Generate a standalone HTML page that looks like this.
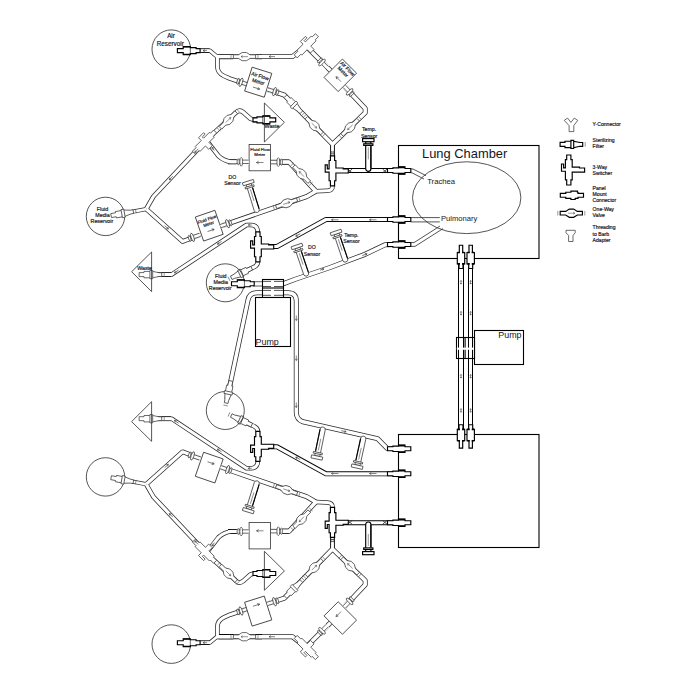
<!DOCTYPE html>
<html><head><meta charset="utf-8"><title>Lung Chamber Bioreactor Diagram</title><style>
html,body{margin:0;padding:0;background:#fff}
svg{display:block}
text{font-family:"Liberation Sans",Arial,sans-serif;fill:#15151f}
.sm text,text.sm{stroke:#15151f;stroke-width:.18}
.tb path{fill:none;stroke-linejoin:round;stroke-linecap:butt}
.tw path{fill:none;stroke:#fff;stroke-linejoin:round;stroke-linecap:butt}
.lt{fill:#fff;stroke:#3a3a3a;stroke-width:.75;stroke-linejoin:miter}
.bd{fill:#fff;stroke:#000;stroke-width:1.15;stroke-linejoin:miter}
.in{fill:none;stroke:#555;stroke-width:.6}
.ln{fill:none;stroke:#2a2a2a;stroke-width:.8}
.bx{fill:#fff;stroke:#333;stroke-width:.8}
.bk{fill:#fff;stroke:#000;stroke-width:1.1}
.ar{fill:none;stroke:#333;stroke-width:.6}
.nf{fill:none}
</style></head><body><svg width="675" height="691" viewBox="0 0 675 691">
<defs>
<g id="F"><path d="M-11.3,-2 H-6.4 V-3.2 H-0.5 V-4.1 H2.3 V-3.2 L8.5,-1.9 H11.3 V1.9 H8.5 L2.3,3.2 V4.1 H-0.5 V3.2 H-6.4 V2 H-11.3 Z"/><path d="M-0.5,-3.2 V3.2 M2.3,-3.2 V3.2" /><path class="in" d="M13.8,-2.3 V2.3"/></g>
<g id="F2"><path d="M-11.3,-2 H-5.5 V-4 H1.6 V-3 H7.4 V-2 H11.4 V2 H7.4 V3 H1.6 V4 H-5.5 V2 H-11.3 Z"/><path d="M-5.5,-3.7 H1.6 M-5.5,3.7 H1.6" stroke-width="1.25"/><path d="M1.6,-3 V3" stroke-width=".6"/></g>
<g id="V"><path d="M-11.1,-1.8 H-5.6 L-2,-4.1 H2.4 L6,-1.8 H11.1 V1.8 H6 L2.4,4.1 H-2 L-5.6,1.8 H-11.1 Z"/><path class="in" d="M-3.5,0 H3.5 M1.8,-1.1 L3.5,0 L1.8,1.1 M-13.5,-2.3 V2.3 M13.5,-2.3 V2.3"/></g>
<g id="P"><path d="M-11.6,-1.9 H-6.1 V-3.1 H-1 V-4.2 H5.5 V-3.1 H6.1 V-1.9 H11.6 V1.9 H6.1 V3.1 H3.3 V4.2 H-1 V3.1 H-6.1 V1.9 H-11.6 Z"/></g>
<g id="P2"><path d="M-11,-2 H-5.6 V-2.7 H0 V-3.6 H6.5 V-2 H12.3 V2 H6.5 V3.6 H0 V2.7 H-5.6 V2 H-11 Z"/><path d="M0,-3.2 H6.5 M0,3.2 H6.5" stroke-width="1.7"/></g>
<g id="P3"><path d="M-10,-2 H-5.4 V-3.7 H6 V-1.7 H13.3 V1.7 H6 V3.7 H-5.4 V2 H-10 Z"/><path d="M-5.4,-3.4 V-1 M-5.4,3.4 V1 M6,-3.4 V-1 M6,3.4 V1" stroke-width="1.6"/></g>
<g id="S2"><path d="M-2.1,-14.6 H2.1 V-10 H3.4 V-2.5 H8 V2.5 H3.4 V10.2 H2.1 V15.4 H-2.1 V10.2 H-3.4 V1.6 H-7.3 V-5.6 H-5.2 V-1.7 H-3.4 V-10 H-2.1 Z"/></g>
<g id="S"><path d="M-2.1,-14.6 H2.1 V-10 H3.4 V-2.5 H10.7 V-1.6 H15.8 V2.5 H3.4 V10.2 H2.1 V15.4 H-2.1 V10.2 H-3.4 V1.6 H-7.3 V-5.6 H-5.2 V-1.7 H-3.4 V-10 H-2.1 Z"/></g>
<g id="B"><rect x="1" y="-2.8" width="6.5" height="5.6" fill="#fff" stroke="none"/><path d="M1,-1.7 H7.5 M1,1.7 H7.5"/><ellipse cx="-3" cy="0" rx="1.1" ry="3.1"/><ellipse cx="0" cy="0" rx="1.4" ry="4.4"/></g>
<g id="T"><path d="M-2.6,-29.6 V-2.6 A2.6,2.6 0 0 0 2.6,-2.6 V-29.6 Z"/><path d="M2.6,-25 V-3" stroke="#000" stroke-width="1.1"/><path class="in" d="M0,-24 V-12"/><rect x="-4.6" y="-27.5" width="9.2" height="1.6"/><rect x="-5.7" y="-32.7" width="11.4" height="3.1"/></g>
</defs>
<rect width="675" height="691" fill="#fff"/>
<g class="tb"><g id="kb"><path d="M199,50.6 L209.9,50.6 L217,56.6" stroke="#2a2a2a" stroke-width="4.20"/><path d="M217,56.6 L292.4,56.6 L306.6,45.5" stroke="#2a2a2a" stroke-width="5.00"/><path d="M217.4,56 L217.4,67 Q217.6,73 224,76 L230,78.6 L247,84.3" stroke="#2a2a2a" stroke-width="4.60"/><path d="M267,89.3 L284.5,95.2 L332.5,144.3" stroke="#2a2a2a" stroke-width="5.00"/><path d="M307.4,47.5 L330.4,70.5" stroke="#2a2a2a" stroke-width="5.00"/><path d="M344.5,86.5 L365.2,108.5 L365.2,112.8 L332.5,144.3" stroke="#2a2a2a" stroke-width="5.00"/><path d="M332.5,144 L332.5,157" stroke="#2a2a2a" stroke-width="4.20"/><path d="M335,170.5 L398.5,170.5" stroke="#000" stroke-width="5.00"/><path d="M218.5,56.6 H233.4" stroke="#000" stroke-width="5.20"/><path d="M255.3,56.6 H262" stroke="#000" stroke-width="5.20"/><path d="M228,161.8 H236.5" stroke="#000" stroke-width="5.00"/><path d="M281.5,162.1 H289" stroke="#000" stroke-width="5.00"/><path d="M253,119.8 H262" stroke="#000" stroke-width="5.00"/><path d="M158,274.6 H171" stroke="#000" stroke-width="4.80"/><path d="M332.5,145.5 V157" stroke="#000" stroke-width="4.40"/><path d="M200.5,50.6 H209.5" stroke="#000" stroke-width="4.20"/><path d="M332.5,186 Q332.8,190.6 327,190.8 L315.8,191.3" stroke="#2a2a2a" stroke-width="4.60"/><path d="M315.8,191.3 L289.1,162.1 L270.4,162.1" stroke="#2a2a2a" stroke-width="5.00"/><path d="M249.1,161.8 L231,161.8 Q224,161 218.5,156 L206.5,140.5" stroke="#2a2a2a" stroke-width="4.60"/><path d="M146.5,208.5 L153.4,196.5 L206.6,139.9 L236,112.5 Q239.5,109 243.5,112.5 L250.5,118.8 L254,119.8" stroke="#2a2a2a" stroke-width="4.70"/><path d="M132,211.8 L146.5,209" stroke="#2a2a2a" stroke-width="4.20"/><path d="M146.5,209.3 L182.6,241.5 L200,234.9" stroke="#2a2a2a" stroke-width="4.70"/><path d="M221.6,225.8 L306.5,196.7 L315.8,191.3" stroke="#2a2a2a" stroke-width="5.00"/><path d="M398,219.5 L326,219.5 L277,246.5 L261,246.5" stroke="#0a0a0a" stroke-width="5.00"/><path d="M257.9,233 Q257.9,225 251,225 L246.5,225 L171.6,274.6 L157,274.6" stroke="#2a2a2a" stroke-width="4.50"/><path d="M257.9,262 Q257.5,266 252,268 L236,275.5" stroke="#2a2a2a" stroke-width="4.60"/></g><use href="#kb" transform="matrix(1 0 0 -1 0 693.3)"/><path d="M283,283.9 L296,279 L330,267.5 L365,254.3 L385,244.8 L398,244.5" stroke="#2a2a2a" stroke-width="5.00"/><path d="M253,283.9 L284,283.9" stroke="#2a2a2a" stroke-width="5.00"/><path d="M227,399 L248,300 Q249.5,292.8 257,292.8 L288,292.8 Q296.3,292.8 296.3,301 L296.3,412 Q296.3,419.5 303,421.8 L377.4,438.6 L387,448.3 L398,448.6" stroke="#2a2a2a" stroke-width="5.00"/><path d="M461,258 V435" stroke="#000" stroke-width="6.00"/><path d="M470.5,258 V435" stroke="#000" stroke-width="5.00"/></g>
<g class="tw"><g id="kw"><path d="M199,50.6 L209.9,50.6 L217,56.6" stroke-width="2.70"/><path d="M217,56.6 L292.4,56.6 L306.6,45.5" stroke-width="3.50"/><path d="M217.4,56 L217.4,67 Q217.6,73 224,76 L230,78.6 L247,84.3" stroke-width="3.10"/><path d="M267,89.3 L284.5,95.2 L332.5,144.3" stroke-width="3.50"/><path d="M307.4,47.5 L330.4,70.5" stroke-width="3.50"/><path d="M344.5,86.5 L365.2,108.5 L365.2,112.8 L332.5,144.3" stroke-width="3.50"/><path d="M332.5,144 L332.5,157" stroke-width="2.70"/><path d="M335,170.5 L398.5,170.5" stroke-width="3.00"/><path d="M218.5,56.6 H233.4" stroke-width="3.10"/><path d="M255.3,56.6 H262" stroke-width="3.10"/><path d="M228,161.8 H236.5" stroke-width="2.90"/><path d="M281.5,162.1 H289" stroke-width="2.90"/><path d="M253,119.8 H262" stroke-width="2.90"/><path d="M158,274.6 H171" stroke-width="2.70"/><path d="M332.5,145.5 V157" stroke-width="2.30"/><path d="M200.5,50.6 H209.5" stroke-width="2.10"/><path d="M332.5,186 Q332.8,190.6 327,190.8 L315.8,191.3" stroke-width="3.10"/><path d="M315.8,191.3 L289.1,162.1 L270.4,162.1" stroke-width="3.50"/><path d="M249.1,161.8 L231,161.8 Q224,161 218.5,156 L206.5,140.5" stroke-width="3.10"/><path d="M146.5,208.5 L153.4,196.5 L206.6,139.9 L236,112.5 Q239.5,109 243.5,112.5 L250.5,118.8 L254,119.8" stroke-width="3.20"/><path d="M132,211.8 L146.5,209" stroke-width="2.70"/><path d="M146.5,209.3 L182.6,241.5 L200,234.9" stroke-width="3.20"/><path d="M221.6,225.8 L306.5,196.7 L315.8,191.3" stroke-width="3.50"/><path d="M398,219.5 L326,219.5 L277,246.5 L261,246.5" stroke-width="3.20"/><path d="M257.9,233 Q257.9,225 251,225 L246.5,225 L171.6,274.6 L157,274.6" stroke-width="3.00"/><path d="M257.9,262 Q257.5,266 252,268 L236,275.5" stroke-width="3.10"/></g><use href="#kw" transform="matrix(1 0 0 -1 0 693.3)"/><path d="M283,283.9 L296,279 L330,267.5 L365,254.3 L385,244.8 L398,244.5" stroke-width="3.50"/><path d="M253,283.9 L284,283.9" stroke-width="3.50"/><path d="M227,399 L248,300 Q249.5,292.8 257,292.8 L288,292.8 Q296.3,292.8 296.3,301 L296.3,412 Q296.3,419.5 303,421.8 L377.4,438.6 L387,448.3 L398,448.6" stroke-width="3.50"/><path d="M461,258 V435" stroke-width="4.00"/><path d="M470.5,258 V435" stroke-width="3.00"/></g>
<rect class="bk nf" x="398.5" y="145.5" width="140.5" height="113"/><rect class="bk nf" x="398.5" y="434.5" width="140.5" height="113"/>
<g id="kc"><circle class="ln" cx="171.3" cy="49.2" r="19.3"/><use href="#F2" class="bd" transform="translate(188.7,50.6) rotate(0.0)"/><use href="#V" class="lt" transform="translate(244.5,56.6) rotate(180.0)"/><path class="ar" transform="translate(205.0,50.6) rotate(180.0)" d="M-2.0,0 H2.0 M0.19999999999999996,-1.1 L2.0,0 L0.19999999999999996,1.1"/><path class="ar" transform="translate(272.0,56.6) rotate(180.0)" d="M-3.0,0 H3.0 M1.2,-1.1 L3.0,0 L1.2,1.1"/><use href="#B" class="lt" transform="translate(241.0,82.3) rotate(18.5)"/><g transform="translate(258.2,82.2) rotate(17.5)"><rect class="bx" x="-10.3" y="-12.5" width="20.6" height="25.0"/><path class="ar" d="M-3.5,6.2 H3.5 M1.3,4.9 L3.5,6.2 L1.3,7.5"/></g><use href="#B" class="lt" transform="translate(274.5,91.6) rotate(197.0)"/><use href="#F" class="lt" transform="translate(293.4,104.3) rotate(45.0)"/><use href="#V" class="lt" transform="translate(314.2,125.6) rotate(45.0)"/><use href="#S2" class="lt" transform="translate(306.6,45.5) rotate(45.0)"/><use href="#B" class="lt" transform="translate(322.0,62.5) rotate(45.0)"/><g transform="translate(340.3,75.3) rotate(45.0)"><rect class="bx" x="-10.0" y="-13.0" width="20.0" height="26.0"/><path class="ar" d="M5.0,4.0 H-2.0 M0.2,2.7 L-2.0,4.0 L0.2,5.3"/></g><use href="#B" class="lt" transform="translate(349.6,91.9) rotate(226.7)"/><use href="#V" class="lt" transform="translate(350.1,127.3) rotate(136.4)"/><path class="ln" d="M330.7,150.5 V155.7 M334.3,150.5 V155.7 M330.7,152 H334.3 M330.7,153.8 H334.3"/><use href="#S" class="bd" transform="translate(332.5,170.5) rotate(0.0)"/><path class="ln" d="M347.5,169 L352.2,172.8 M347.5,172.8 L352.2,169 M382.5,169 L387.2,172.8 M382.5,172.8 L387.2,169"/><use href="#T" class="bd" transform="translate(368.3,171.3) rotate(0.0)"/><use href="#P2" class="bd" transform="translate(398.5,170.5) rotate(0.0)"/><use href="#V" class="lt" transform="translate(301.6,174.1) rotate(226.5)"/><use href="#B" class="lt" transform="translate(278.3,162.1) rotate(180.0)"/><g transform="translate(259.8,157.6) rotate(0.0)"><rect class="bx" x="-10.7" y="-13.2" width="21.4" height="26.4"/><path class="ar" d="M3.7,4.9 H-3.3 M-1.1,3.6 L-3.3,4.9 L-1.1,6.2"/></g><use href="#B" class="lt" transform="translate(241.2,161.8) rotate(0.0)"/><use href="#V" class="lt" transform="translate(228.3,120.0) rotate(-45.0)"/><use href="#S2" class="lt" transform="translate(204.8,141.8) rotate(45.0)"/><use href="#F2" class="bd" transform="translate(264.4,119.8) rotate(180.0)"/><path class="ln" d="M264.4,103 V142 L284.4,122.3 Z" fill="none"/><circle class="ln" cx="105.5" cy="216.4" r="19.2"/><use href="#F" class="lt" transform="translate(122.2,213.6) rotate(-10.3)"/><use href="#B" class="lt" transform="translate(192.5,237.4) rotate(-19.0)"/><g transform="translate(209.2,225.7) rotate(-19.0)"><rect class="bx" x="-10.3" y="-12.7" width="20.7" height="25.4"/><path class="ar" d="M-3.5,5.0 H3.5 M1.3,3.7 L3.5,5.0 L1.3,6.3"/></g><use href="#B" class="lt" transform="translate(227.6,223.7) rotate(161.0)"/><use href="#V" class="lt" transform="translate(286.6,203.3) rotate(-19.0)"/><use href="#T" class="lt" transform="translate(257.5,212.4) rotate(-17.2)"/><path class="ar" transform="translate(171.0,178.0) rotate(133.0)" d="M-2.5,0 H2.5 M0.7,-1.1 L2.5,0 L0.7,1.1"/><path class="ar" transform="translate(196.5,150.7) rotate(133.0)" d="M-2.5,0 H2.5 M0.7,-1.1 L2.5,0 L0.7,1.1"/><path class="ar" transform="translate(166.5,227.3) rotate(42.0)" d="M-2.5,0 H2.5 M0.7,-1.1 L2.5,0 L0.7,1.1"/><path class="ar" transform="translate(213.2,149.0) rotate(233.0)" d="M-2.0,0 H2.0 M0.19999999999999996,-1.1 L2.0,0 L0.19999999999999996,1.1"/><use href="#P2" class="bd" transform="translate(398.5,219.5) rotate(0.0)"/><use href="#S" class="bd" transform="translate(257.9,246.5) rotate(0.0)"/><path class="ar" transform="translate(335.0,219.8) rotate(180.0)" d="M-3.5,0 H3.5 M1.7,-1.1 L3.5,0 L1.7,1.1"/><path class="ar" transform="translate(373.0,219.8) rotate(180.0)" d="M-3.5,0 H3.5 M1.7,-1.1 L3.5,0 L1.7,1.1"/><path class="ar" transform="translate(298.0,235.0) rotate(152.0)" d="M-2.5,0 H2.5 M0.7,-1.1 L2.5,0 L0.7,1.1"/><path class="ar" transform="translate(250.0,225.0) rotate(180.0)" d="M-1.75,0 H1.75 M-0.050000000000000044,-1.1 L1.75,0 L-0.050000000000000044,1.1"/><path class="ar" transform="translate(219.5,242.8) rotate(146.0)" d="M-2.5,0 H2.5 M0.7,-1.1 L2.5,0 L0.7,1.1"/><path class="ar" transform="translate(176.5,271.5) rotate(146.0)" d="M-2.5,0 H2.5 M0.7,-1.1 L2.5,0 L0.7,1.1"/><use href="#F" class="lt" transform="translate(150.4,274.6) rotate(0.0)"/><path class="ln" d="M151.6,252 V291.6 L131.6,271.7 Z" fill="none"/><use href="#F" class="lt" transform="translate(241.5,273.0) rotate(155.0)"/><circle class="ln" cx="225.3" cy="282.8" r="19"/><use href="#P2" class="bd" transform="translate(398.5,244.5) rotate(0.0)"/><use href="#P3" class="bd" transform="translate(461.0,258.5) rotate(-90.0)"/><use href="#P3" class="bd" transform="translate(470.7,258.5) rotate(-90.0)"/></g><use href="#kc" transform="matrix(1 0 0 -1 0 693.3)"/>
<use href="#T" class="lt" transform="translate(306.9,276.0) rotate(-18.6)"/><use href="#T" class="lt" transform="translate(346.0,262.0) rotate(-18.6)"/><path class="ar" transform="translate(364.7,254.7) rotate(-21.0)" d="M-2.5,0 H2.5 M0.7,-1.1 L2.5,0 L0.7,1.1"/><path class="ar" transform="translate(322.0,269.5) rotate(-19.0)" d="M-2.0,0 H2.0 M0.19999999999999996,-1.1 L2.0,0 L0.19999999999999996,1.1"/><use href="#F2" class="bd" transform="translate(242.8,283.7) rotate(0.0)"/><rect class="bk" x="262.5" y="279.5" width="21" height="18"/><path class="bk" d="M262.3,288 H283.6"/><path class="ln" d="M263,281.4 H271 M274,281.4 H283 M263,286.5 H271 M274,286.5 H283 M263,290.4 H271 M274,290.4 H283 M263,295.3 H271 M274,295.3 H283" /><rect class="bk" x="255.5" y="297.5" width="35" height="49"/><use href="#T" class="lt" transform="translate(323.2,427.0) rotate(191.7)"/><use href="#T" class="lt" transform="translate(363.8,436.2) rotate(192.4)"/><path class="ar" transform="translate(343.7,431.2) rotate(12.5)" d="M-2.5,0 H2.5 M0.7,-1.1 L2.5,0 L0.7,1.1"/><path class="ar" transform="translate(296.3,405.0) rotate(90.0)" d="M-2.5,0 H2.5 M0.7,-1.1 L2.5,0 L0.7,1.1"/><path class="ar" transform="translate(296.3,318.0) rotate(90.0)" d="M-2.5,0 H2.5 M0.7,-1.1 L2.5,0 L0.7,1.1"/><path class="ar" transform="translate(296.3,358.0) rotate(90.0)" d="M-2.5,0 H2.5 M0.7,-1.1 L2.5,0 L0.7,1.1"/><use href="#F" class="lt" transform="translate(228.5,392) rotate(102)"/><path class="ar" d="M461,280.5 V284.1 M460.2,281.5 L461,280.5 L461.8,281.5 M460.2,283.1 L461,284.1 L461.8,283.1"/><path class="ar" d="M470.6,280.5 V284.1 M469.8,281.5 L470.6,280.5 L471.40000000000003,281.5 M469.8,283.1 L470.6,284.1 L471.40000000000003,283.1"/><path class="ar" d="M461,311.5 V315.1 M460.2,312.5 L461,311.5 L461.8,312.5 M460.2,314.1 L461,315.1 L461.8,314.1"/><path class="ar" d="M470.6,311.5 V315.1 M469.8,312.5 L470.6,311.5 L471.40000000000003,312.5 M469.8,314.1 L470.6,315.1 L471.40000000000003,314.1"/><path class="ar" d="M461,374.5 V378.1 M460.2,375.5 L461,374.5 L461.8,375.5 M460.2,377.1 L461,378.1 L461.8,377.1"/><path class="ar" d="M470.6,374.5 V378.1 M469.8,375.5 L470.6,374.5 L471.40000000000003,375.5 M469.8,377.1 L470.6,378.1 L471.40000000000003,377.1"/><path class="ar" d="M461,408.7 V412.3 M460.2,409.7 L461,408.7 L461.8,409.7 M460.2,411.3 L461,412.3 L461.8,411.3"/><path class="ar" d="M470.6,408.7 V412.3 M469.8,409.7 L470.6,408.7 L471.40000000000003,409.7 M469.8,411.3 L470.6,412.3 L471.40000000000003,411.3"/><rect class="bk" x="474.5" y="330.5" width="49" height="34"/><rect class="bk nf" x="456.5" y="337.5" width="18" height="21"/><path class="bk" d="M465.1,337.3 V358.3"/><path d="M456.8,348.7 H474" stroke="#fff" stroke-width="2.2"/><ellipse class="ln" cx="466.7" cy="197.7" rx="54.2" ry="35.9" fill="none"/><path class="ln" fill="none" d="M410.7,169 L413,169 L426,175.6 M410.7,172.8 L412,172.8 L424,179 M410.7,217.6 H439.8 M410.7,221.9 H439.8 M410.7,242.6 H414 L440,226 M410.7,246.4 H415 L443,228.6"/><path class="lt" fill="none" d="M564.2,120.4 L567.6,118.1 L570.9,122.4 L574.3,118.1 L577.7,120.4 L573.8,125.6 V131.6 H569.1 V125.6 Z"/><use href="#F" class="bd" transform="translate(571.4,144.4)"/><use href="#S" class="bd" transform="translate(568.8,169.6)"/><use href="#P" class="bd" transform="translate(571.9,195.3)"/><use href="#V" class="bd" transform="translate(571.3,213.2)"/><path class="lt" fill="none" d="M566,230.3 H575.2 V232.8 L573,235.4 V241.5 H568.6 V235.4 L566,232.8 Z"/>
<g><text class="sm" x="171.0" y="38.3" font-size="6.3" text-anchor="middle">Air</text><text class="sm" x="170.3" y="46.0" font-size="6.3" text-anchor="middle">Reservoir</text><text class="sm" x="102.5" y="210.8" font-size="5.3" text-anchor="middle">Fluid</text><text class="sm" x="102.5" y="216.9" font-size="5.3" text-anchor="middle">Media</text><text class="sm" x="101.9" y="223.1" font-size="5.3" text-anchor="middle">Reservoir</text><text class="sm" x="220.8" y="277.8" font-size="5.3" text-anchor="middle">Fluid</text><text class="sm" x="220.8" y="283.9" font-size="5.3" text-anchor="middle">Media</text><text class="sm" x="220.2" y="290.1" font-size="5.3" text-anchor="middle">Reservoir</text><text class="sm" x="272.0" y="128.2" font-size="5.3" text-anchor="middle">Waste</text><text class="sm" x="144.6" y="270.4" font-size="5.3" text-anchor="middle">Waste</text><text class="sm" x="232.5" y="178.8" font-size="5.2" text-anchor="middle">DO</text><text class="sm" x="232.4" y="184.8" font-size="5.2" text-anchor="middle">Sensor</text><text class="sm" x="312.0" y="249.0" font-size="5.2" text-anchor="middle">DO</text><text class="sm" x="312.0" y="255.6" font-size="5.2" text-anchor="middle">Sensor</text><text class="sm" x="369.1" y="131.2" font-size="5.2" text-anchor="middle">Temp.</text><text class="sm" x="369.1" y="137.5" font-size="5.2" text-anchor="middle">Sensor</text><text class="sm" x="351.4" y="237.1" font-size="5.2" text-anchor="middle">Temp.</text><text class="sm" x="351.4" y="242.7" font-size="5.2" text-anchor="middle">Sensor</text><text class="sm" x="260.0" y="151.2" font-size="4.3" text-anchor="middle">Fluid Flow</text><text class="sm" x="259.8" y="156.0" font-size="4.3" text-anchor="middle">Meter</text><g class="sm" transform="translate(258.2,82.2) rotate(17.5)"><text x="0" y="-4.6" font-size="5.0" text-anchor="middle">Air Flow</text><text x="0" y="1.2" font-size="5.0" text-anchor="middle">Meter</text></g><g class="sm" transform="translate(340.3,75.3) rotate(45)"><text x="0.3" y="-8.0" font-size="5.0" text-anchor="middle">Air Flow</text><text x="-0.5" y="-2.6" font-size="5.0" text-anchor="middle">Meter</text></g><g class="sm" transform="translate(209.2,225.7) rotate(-19)"><text x="0" y="-5.2" font-size="4.3" text-anchor="middle">Fluid Flow</text><text x="0" y="-0.3" font-size="4.3" text-anchor="middle">Meter</text></g><text x="422.0" y="157.8" font-size="12.9" text-anchor="start">Lung Chamber</text><text x="427.2" y="183.8" font-size="7.7" text-anchor="start">Trachea</text><text x="441.0" y="220.6" font-size="7.6" text-anchor="start">Pulmonary</text><text x="255.6" y="344.8" font-size="8.9" text-anchor="start">Pump</text><text x="498.3" y="338.0" font-size="8.9" text-anchor="start">Pump</text><text class="sm" x="592.6" y="126.1" font-size="5.1" text-anchor="start">Y-Connector</text><text class="sm" x="592.6" y="142.1" font-size="5.1" text-anchor="start">Sterilizing</text><text class="sm" x="592.6" y="147.8" font-size="5.1" text-anchor="start">Filter</text><text class="sm" x="592.6" y="168.8" font-size="5.1" text-anchor="start">3-Way</text><text class="sm" x="592.6" y="174.6" font-size="5.1" text-anchor="start">Switcher</text><text class="sm" x="592.6" y="189.5" font-size="5.1" text-anchor="start">Panel</text><text class="sm" x="592.6" y="195.6" font-size="5.1" text-anchor="start">Mount</text><text class="sm" x="592.6" y="201.7" font-size="5.1" text-anchor="start">Connector</text><text class="sm" x="592.6" y="210.8" font-size="5.1" text-anchor="start">One-Way</text><text class="sm" x="592.6" y="216.6" font-size="5.1" text-anchor="start">Valve</text><text class="sm" x="592.6" y="228.9" font-size="5.1" text-anchor="start">Threading</text><text class="sm" x="592.6" y="235.5" font-size="5.1" text-anchor="start">to Barb</text><text class="sm" x="592.6" y="241.9" font-size="5.1" text-anchor="start">Adapter</text></g>
</svg></body></html>
